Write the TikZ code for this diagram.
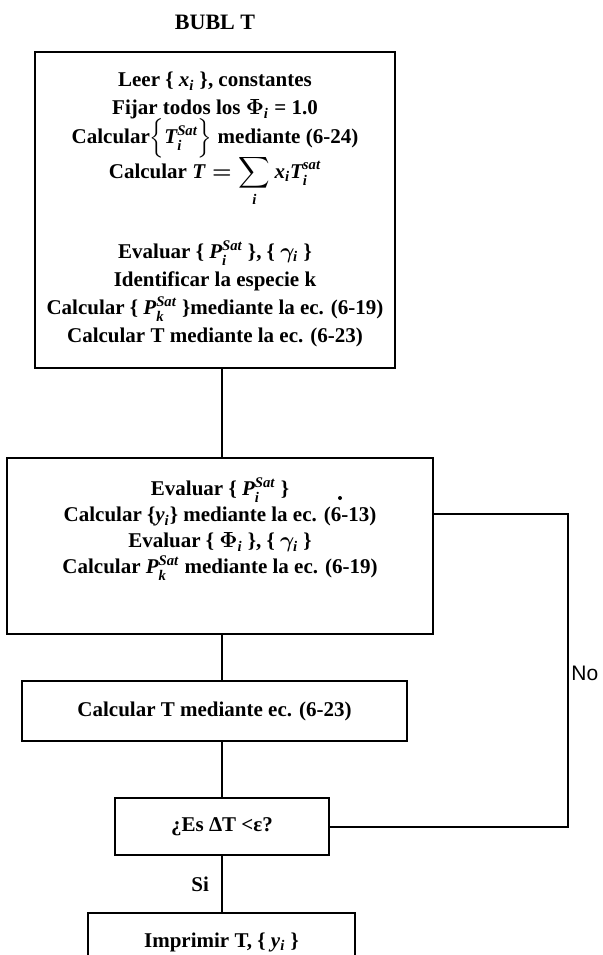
\documentclass[tikz,border=0pt]{standalone}
\usepackage{amsmath}
\usepackage{fontspec}
\setmainfont{Liberation Serif}
\newfontfamily\arialfont{Liberation Sans}
\usetikzlibrary{calc}

\newcommand{\ital}[1]{\mathit{#1}}

\tikzset{
	flowbox/.style={draw, line width=1pt, rectangle, inner sep=0pt, align=center,
		font=\fontsize{10.5}{14}\selectfont\bfseries\boldmath},
	flowline/.style={line width=1pt},
	branchlabel/.style={font=\fontsize{10.5}{12}\selectfont\bfseries, inner sep=1pt}
}

\begin{document}
\begin{tikzpicture}[x=0.5pt,y=-0.5pt]
	\newcommand{\spineX}{222}
	\newcommand{\loopX}{568}
	\newcommand{\satsup}{\ital{Sat}}

	\useasboundingbox (0,0) rectangle (602,955);

	\coordinate (spine) at (\spineX,0);
	\coordinate (loop_corner) at (\loopX,514);

	% title
	\node[font=\fontsize{11}{13}\selectfont\bfseries] (title) at (215,22) {BUBL T};

	% boxes
	\node[flowbox, minimum width=180pt, minimum height=158pt] (box_init) at (215,209.5) {
		Leer \{ $\ital{x}_{\ital{i}}$ \}, constantes\\
		Fijar todos los $\Phi_{\ital{i}}$ = 1.0\\[-1.5pt]
		Calcular$\Big\{\ital{T}_{\ital{i}}^{\satsup}\Big\}$ mediante (6-24)\\[-2pt]
		Calcular $\displaystyle \ital{T}=\sum_{\ital{i}} \ital{x}_{\ital{i}} \ital{T}_{\ital{i}}^{\ital{sat}}$\\[16pt]
		Evaluar \{ $\ital{P}_{\ital{i}}^{\satsup}$ \}, \{ $\gamma_{\ital{i}}$ \}\\
		Identificar la especie k\\
		Calcular \{ $\ital{P}_{\ital{k}}^{\satsup}$ \}mediante la ec. (6-19)\\
		Calcular T mediante la ec. (6-23)};
	\node[flowbox, minimum width=213pt, minimum height=88pt,
		font=\fontsize{10.5}{13}\selectfont\bfseries\boldmath] (box_update) at (220,546) {
		Evaluar \{ $\ital{P}_{\ital{i}}^{\satsup}$ \}\\
		Calcular \{$\ital{y}_{\ital{i}}$\} mediante la ec. (6-13)\\
		Evaluar \{ $\Phi_{\ital{i}}$ \}, \{ $\gamma_{\ital{i}}$ \}\\
		Calcular $\ital{P}_{\ital{k}}^{\satsup}$ mediante la ec. (6-19)\\[7pt]
		\mbox{}};
	\node[flowbox, minimum width=192.5pt, minimum height=30pt] (box_temp) at (214.5,711)
		{Calcular T mediante ec. (6-23)};
	\node[flowbox, minimum width=107pt, minimum height=28.5pt] (box_test) at (222,826.5)
		{¿Es ΔT <ε?};
	\node[flowbox, minimum width=133.5pt, minimum height=29pt] (box_print) at (221.5,942)
		{Imprimir T, \{ $\ital{y}_{\ital{i}}$ \}};

	% stray dot of the scan
	\fill (340,498) circle (1pt);

	% main line
	\draw[flowline] (box_init.south -| spine) -- (box_update.north -| spine);
	\draw[flowline] (box_update.south -| spine) -- (box_temp.north -| spine);
	\draw[flowline] (box_temp.south -| spine) -- (box_test.north -| spine);
	\draw[flowline] (box_test.south -| spine) -- node[branchlabel, left=5pt] (label_si) {Si}
		(box_print.north -| spine);

	% back loop
	\draw[flowline] (box_test.east) -| (loop_corner) -- (loop_corner -| box_update.east);
	\node[anchor=west, inner sep=1pt, font=\arialfont\fontsize{10.5}{12}\selectfont]
		(label_no) at (\loopX+1,673) {No};
\end{tikzpicture}
\end{document}
